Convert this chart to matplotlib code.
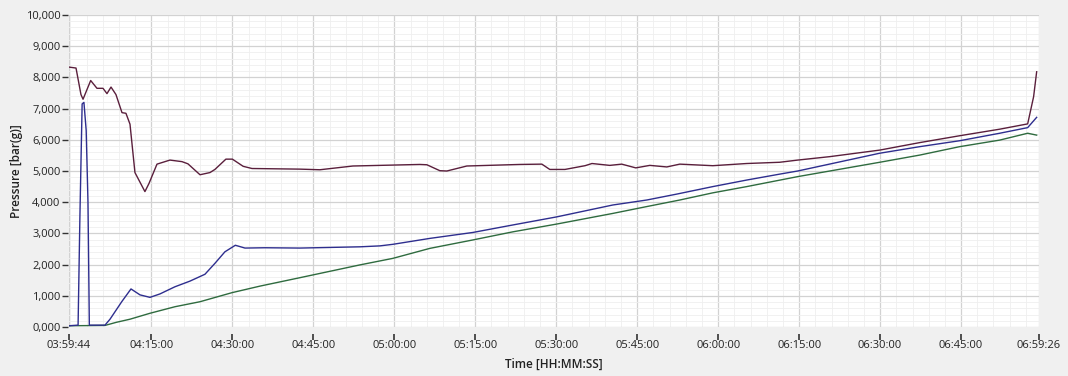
import pandas as pd
import numpy as np
import matplotlib
matplotlib.use('Agg')
import matplotlib.pyplot as plt
import matplotlib.dates as mdates
from matplotlib.ticker import FuncFormatter, MultipleLocator

# pressure readings (time, bar(g))
red_t = ['03:59:44', '04:01:02', '04:01:57', '04:02:20', '04:03:45', '04:04:55', '04:06:02',
         '04:06:46', '04:07:31', '04:08:26', '04:09:33', '04:10:17', '04:11:02', '04:11:57',
         '04:13:48', '04:14:33', '04:16:02', '04:18:26', '04:20:40', '04:21:46', '04:24:00',
         '04:25:51', '04:26:46', '04:28:48', '04:30:00', '04:32:00', '04:33:38', '04:42:30',
         '04:46:13', '04:52:20', '05:04:44', '05:06:02', '05:08:26', '05:09:44', '05:13:26',
         '05:23:15', '05:27:20', '05:28:48', '05:31:37', '05:35:20', '05:36:37', '05:39:55',
         '05:42:08', '05:44:44', '05:47:20', '05:50:29', '05:52:53', '05:59:00', '06:05:17',
         '06:11:24', '06:14:44', '06:20:40', '06:29:56', '06:37:20', '06:44:44', '06:52:09',
         '06:57:20', '06:58:26', '06:59:00']
red_p = [8330, 8300, 7450, 7300, 7900, 7650, 7650,
         7480, 7690, 7450, 6870, 6850, 6500, 4950,
         4340, 4600, 5220, 5350, 5300, 5230, 4880,
         4950, 5050, 5380, 5380, 5150, 5080, 5060,
         5040, 5160, 5210, 5200, 5010, 5000, 5160,
         5210, 5220, 5050, 5050, 5170, 5240, 5180,
         5220, 5100, 5180, 5130, 5220, 5170, 5240,
         5280, 5350, 5460, 5670, 5910, 6130, 6340,
         6510, 7380, 8180]

blue_t = ['03:59:44', '04:01:25', '04:01:45', '04:02:10', '04:02:30', '04:02:55', '04:03:15',
          '04:03:30', '04:06:24', '04:07:20', '04:09:30', '04:11:13', '04:12:53', '04:14:44',
          '04:16:35', '04:19:22', '04:22:08', '04:24:55', '04:26:46', '04:28:37', '04:30:33',
          '04:32:20', '04:36:02', '04:42:30', '04:53:37', '04:57:20', '04:59:44', '05:06:35',
          '05:14:33', '05:21:57', '05:30:06', '05:40:28', '05:46:46', '05:52:20', '05:59:00',
          '06:05:17', '06:11:24', '06:14:44', '06:29:56', '06:37:20', '06:44:44', '06:52:09',
          '06:57:20', '06:59:00']
blue_p = [40, 60, 3500, 7150, 7200, 6300, 4000,
          60, 60, 250, 810, 1220, 1030, 950,
          1060, 1290, 1470, 1690, 2040, 2410, 2620,
          2530, 2540, 2530, 2570, 2600, 2650, 2840,
          3030, 3270, 3530, 3910, 4070, 4260, 4500,
          4710, 4900, 5000, 5570, 5780, 5970, 6210,
          6390, 6720]

green_t = ['03:59:44', '04:06:24', '04:08:30', '04:11:02', '04:14:44', '04:19:22', '04:24:00',
           '04:29:55', '04:35:06', '04:42:30', '04:53:37', '04:59:44', '05:06:35', '05:14:33',
           '05:21:57', '05:30:06', '05:40:28', '05:46:46', '05:52:53', '05:59:00', '06:05:17',
           '06:14:44', '06:29:56', '06:37:20', '06:44:44', '06:52:09', '06:57:20', '06:59:00']
green_p = [40, 50, 150, 250, 440, 650, 810,
           1100, 1310, 1580, 1990, 2200, 2520, 2790,
           3050, 3300, 3640, 3860, 4070, 4300, 4500,
           4820, 5280, 5510, 5780, 5990, 6210, 6150]

x_ticks = ['03:59:44', '04:15:00', '04:30:00', '04:45:00', '05:00:00', '05:15:00', '05:30:00',
           '05:45:00', '06:00:00', '06:15:00', '06:30:00', '06:45:00', '06:59:26']


def to_dt(times):
    return pd.to_datetime(['2000-01-01 ' + t for t in times])


plt.rcParams['font.family'] = ['Open Sans', 'DejaVu Sans']

fig = plt.figure(figsize=(10.68, 3.76), dpi=100, facecolor='#f0f0f0')
ax = fig.add_axes([69 / 1068, 1 - 327 / 376, 970 / 1068, 312 / 376])
ax.set_facecolor('white')

ax.plot(to_dt(green_t), green_p, color='#2f6b3f', lw=1.0)
ax.plot(to_dt(blue_t), blue_p, color='#2e2e8e', lw=1.0)
ax.plot(to_dt(red_t), red_p, color='#5a1f3c', lw=1.0)

ticks = to_dt(x_ticks)
ax.set_xlim(ticks[0], ticks[-1])
ax.set_ylim(0, 10000)
ax.set_xticks(ticks)
ax.xaxis.set_major_formatter(mdates.DateFormatter('%H:%M:%S'))
ax.xaxis.set_minor_locator(mdates.MinuteLocator(byminute=range(0, 60, 3)))
ax.yaxis.set_major_locator(MultipleLocator(1000))
ax.yaxis.set_minor_locator(MultipleLocator(200))
ax.yaxis.set_major_formatter(FuncFormatter(lambda v, p: '{:d},{:03d}'.format(int(v) // 1000, int(v) % 1000)))

ax.grid(True, which='major', color='#d2d2d2', lw=0.9)
ax.grid(True, which='minor', color='#efefef', lw=0.6)
ax.set_axisbelow(True)

for s in ax.spines.values():
    s.set_visible(False)
ax.spines['bottom'].set_position(('outward', 5))
ax.spines['left'].set_position(('outward', 1))
ax.tick_params(which='minor', length=0)
ax.tick_params(axis='x', which='major', length=4, width=1.2, color='#333333', labelsize=8, pad=0.5, labelcolor='#222222')
ax.tick_params(axis='y', which='major', length=4, width=1, color='#333333', labelsize=8, pad=1, labelcolor='#222222')

ax.set_xlabel('Time [HH:MM:SS]', fontsize=8.5, fontweight='semibold', color='#222222', labelpad=5)
ax.set_ylabel('Pressure [bar(g)]', fontsize=8.5, fontweight='semibold', color='#222222', labelpad=2)

fig.savefig('out.png', dpi=100, facecolor=fig.get_facecolor())
